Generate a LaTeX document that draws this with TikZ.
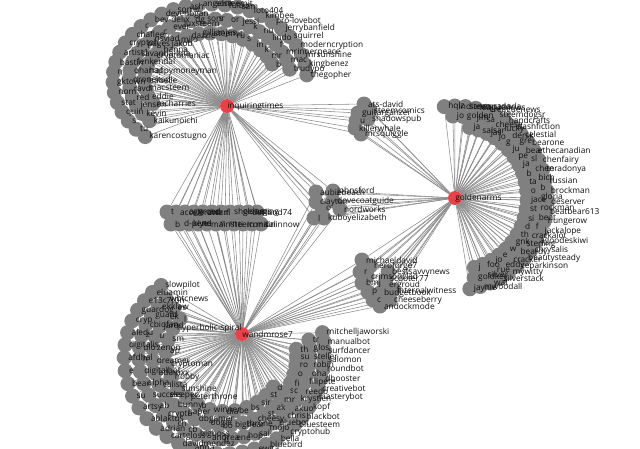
\documentclass[tikz,border=0pt]{standalone}
\usepackage{fontspec}
\setmainfont{Open Sans}
\definecolor{leafgray}{RGB}{128,128,128}
\definecolor{hubred}{RGB}{236,64,72}
\definecolor{edgegray}{RGB}{140,140,140}
\definecolor{labelink}{RGB}{15,15,15}
\pgfdeclarelayer{paper}
\pgfdeclarelayer{edges}
\pgfsetlayers{paper,edges,main}

% user names, ring by ring
\def\itOuter{thegopher,kingbenez,mrsunshine,moderncryption,squirrel,jerrybanfield,pro-lovebot,kimbee,loto404,sam,fulbo,sonr,angelsteemit,ash,sorrel,devenogan,bev-delix,c,chaflee,cryptoh,artist1,bastin,n,gktown,nom,stat,quin,s,tu,karencostugno}
\def\itMiddle{trudypo,mac,mrinnerpeace,f,lindo,nu,k,jessi,or,s,sonr,dg,luxsteem,ever,c,nsvlad,pages,savanna-ima,fenkendal,oharraf,dronekod,ravdi,red,jensen,kevin,kaikunoichi}
\def\itInner{b,mr,k,in,s,ru,jes,steemit,gillian,dazzle,milo,jakob,hanna,cryptomaniac,i,happymoneyman,isabelle,macsteem,eddie,mcharries}
\def\gaInner{ja,salsar,jas,jo,g,ju,pe,ja,b,ta,o,jace,st,si,d,th,gnk,w,e,jo,foo,j}
\def\gaMiddle{jo,golden,jim,sa,cheese,lucky,dersk,gre,bear,sl,chen,bich,b,gloria,rockman,beat,f,crackalot,sterling,beardy,cracker,eddy,rue,silver,goldkey}
\def\gaOuter{hqlz,indiancanada,steemcanada,leaguenews,creaguenews,steemdogsr,handcrafts,dashfiction,celestial,bearone,ethecanadian,chenfairy,teradonya,russian,brockman,deserver,beatbear613,hungerow,jackalope,agoodeskiwi,chrysalis,beautysteady,ceparkinson,mywitty,silverstack,wat,mwoodall,jaynie}
\def\wrA{mitchelljaworski,manualbot,surfdancer,salomon,roundbot,dbooster,creativebot,masterybot,kopf,blackbot,bluesteem,cryptohub,bella,bluebird,ewita,bitcoin,cheese,hoc,annie,anna,davidmendez,cartgloss,adrian,ablaktus,artsy,su,bear,e,afdhal,digitalis,aledu,cryp,guardog,e13c7r0n,eluamin,slowpilot}
\def\wrB{tr,glos,steller,robin,oha,filipete,reedo,krystien,akuo,chris,bluebot,mojo,sal,hop,ene,d,andrea,bigboss,cb,ch,crypto,ab,success,alpha,digitalbot,n,ulo,z,cbiofan,guard,ekklaw,wbtcnews}
\def\wrC{th,su,ro,o,fi,sc,mr,ak,st,cheesy,throne,bigbear,bo,oogie,dbgamer,paper,bunny,sleeper,calista,adamxx,dreamer,zenon,u,jared,ek,es}
\def\wrD{d,st,sir,bs,be,dia,winner,b,peterthrone,sunshine,hobby,cryptoman,ap,sm,hyperbolic-spiral,l}
\def\midTop{t,accelerator,aggroed,n,dwarf,r,ri,shoehugs,gloaming,derlund74,s}
\def\midLow{b,d-pend,kiye,ne,mainsteem,n,rn,ti,iconical,maininnow,c}
\def\trio{e1/316/192/aubiebeach,e2/333/191/johnsford,e3/316/202/clayton,e4/333/201/dovecoatguide,e5/322/208/o,e6/340/209/nordworks,e7/314/218/l,e8/324/218/kuboyelizabeth}
\def\itga{f1/364/104/ats-david,f2/370/110/steemcomics,f3/358/113/guitarganzer,f4/368/119/shadowspub,f5/356/121/u,f6/355/128/killerwhale,f7/361/134/mrsquiggle}
\def\wrga{g1/362/260/michaeldavid,g2/370/266/heroforge7,g3/360/272/r,g4/388/272/bestsavvynews,g5/367/276/crimsonclad,g6/386/279/scooter77,g7/385/285/ergroud,g8/362/283/bmj,g9/393/290/internalwitness,g10/368/292/p,g11/380/293/budgetbook,g12/390/300/cheeseberry,g13/373/300/c,g14/380/306/andockmode}

\begin{document}
\begin{tikzpicture}[x=1pt,y=-1pt,
	leaf/.style={circle,fill=leafgray,inner sep=0pt,minimum size=15pt},
	hub/.style={circle,fill=hubred,inner sep=0pt,minimum size=14pt},
	lab/.style={font=\fontsize{8.3}{9}\selectfont,text=labelink,inner sep=0pt,anchor=west,xshift=-3.8pt},
	edge/.style={draw=edgegray,line width=0.55pt}]
	\useasboundingbox (0,0) rectangle (640,448);
	\begin{pgfonlayer}{paper}
	\fill[white] (0,0) rectangle (640,448);
	\end{pgfonlayer}

	% hubs
	\node (it) at (227,106) [hub] {};
	\node (ga) at (455,198) [hub] {};
	\node (wr) at (242,334) [hub] {};

	% inquiringtimes
	\foreach \nm [count=\i] in \itOuter {
		\pgfmathsetmacro\p{-232*(\i-0.5)/30}
		\node (ao\i) at ({210+97*cos(\p)},{80+76*sin(\p)}) [leaf] {};
	}
	\foreach \nm [count=\i] in \itMiddle {
		\pgfmathsetmacro\p{-6-220*(\i-0.5)/26}
		\node (am\i) at ({210+81*cos(\p)},{80+61*sin(\p)}) [leaf] {};
	}
	\foreach \nm [count=\i] in \itInner {
		\pgfmathsetmacro\p{-15-200*(\i-0.5)/20}
		\node (ai\i) at ({210+66*cos(\p)},{80+47*sin(\p)}) [leaf] {};
	}

	% goldenarms
	\foreach \nm [count=\i] in \gaInner {
		\pgfmathsetmacro\a{-82+160*(\i-0.5)/22}
		\node (gi\i) at ({455+72*cos(\a)},{198+72*sin(\a)}) [leaf] {};
	}
	\foreach \nm [count=\i] in \gaMiddle {
		\pgfmathsetmacro\a{-95+175*(\i-0.5)/25}
		\node (gm\i) at ({455+82*cos(\a)},{198+82*sin(\a)}) [leaf] {};
	}
	\foreach \nm [count=\i] in \gaOuter {
		\pgfmathsetmacro\a{-100+184*(\i-0.5)/28}
		\node (go\i) at ({455+92*cos(\a)},{198+92*sin(\a)}) [leaf] {};
	}

	% wandmrose7
	\foreach \nm [count=\i] in \wrA {
		\pgfmathsetmacro\a{-4+218*(\i-0.5)/36}
		\pgfmathsetmacro\s{(\a+4)/218}
		\pgfmathsetmacro\r{80+12*\s+40*sin(180*\s^1.4)}
		\node (wa\i) at ({242+\r*cos(\a)},{334+\r*sin(\a)}) [leaf] {};
	}
	\foreach \nm [count=\i] in \wrB {
		\pgfmathsetmacro\a{2+206*(\i-0.5)/32}
		\pgfmathsetmacro\s{(\a+4)/218}
		\pgfmathsetmacro\r{65+12*\s+40*sin(180*\s^1.4)}
		\node (wb\i) at ({242+\r*cos(\a)},{334+\r*sin(\a)}) [leaf] {};
	}
	\foreach \nm [count=\i] in \wrC {
		\pgfmathsetmacro\a{12+192*(\i-0.5)/26}
		\pgfmathsetmacro\s{(\a+4)/218}
		\pgfmathsetmacro\r{51+12*\s+40*sin(180*\s^1.4)}
		\node (wc\i) at ({242+\r*cos(\a)},{334+\r*sin(\a)}) [leaf] {};
	}
	\foreach \nm [count=\i] in \wrD {
		\pgfmathsetmacro\a{55+143*(\i-0.5)/16}
		\pgfmathsetmacro\s{(\a+4)/218}
		\pgfmathsetmacro\r{37+12*\s+40*sin(180*\s^1.4)}
		\node (wd\i) at ({242+\r*cos(\a)},{334+\r*sin(\a)}) [leaf] {};
	}

	% shared clusters
	\foreach \nm [count=\i] in \midTop \node (da\i) at (158+9*\i,212) [leaf] {};
	\foreach \nm [count=\i] in \midLow \node (db\i) at (162+9*\i,224) [leaf] {};
	\foreach \n/\x/\y/\nm in \trio \node (\n) at (\x,\y) [leaf] {};
	\foreach \n/\x/\y/\nm in \itga \node (\n) at (\x,\y) [leaf] {};
	\foreach \n/\x/\y/\nm in \wrga \node (\n) at (\x,\y) [leaf] {};

	% labels on top of the circles
	\node[lab,xshift=-3.3pt] at (it.east) {inquiringtimes};
	\node[lab,xshift=-3.3pt] at (ga.east) {goldenarms};
	\node[lab,xshift=-3.3pt] at (wr.east) {wandmrose7};
	\foreach \nm [count=\i] in \itOuter \node[lab] at (ao\i.east) {\nm};
	\foreach \nm [count=\i] in \itMiddle \node[lab] at (am\i.east) {\nm};
	\foreach \nm [count=\i] in \itInner \node[lab] at (ai\i.east) {\nm};
	\foreach \nm [count=\i] in \gaInner \node[lab] at (gi\i.east) {\nm};
	\foreach \nm [count=\i] in \gaMiddle \node[lab] at (gm\i.east) {\nm};
	\foreach \nm [count=\i] in \gaOuter \node[lab] at (go\i.east) {\nm};
	\foreach \nm [count=\i] in \wrA \node[lab] at (wa\i.east) {\nm};
	\foreach \nm [count=\i] in \wrB \node[lab] at (wb\i.east) {\nm};
	\foreach \nm [count=\i] in \wrC \node[lab] at (wc\i.east) {\nm};
	\foreach \nm [count=\i] in \wrD \node[lab] at (wd\i.east) {\nm};
	\foreach \nm [count=\i] in \midTop \node[lab] at (da\i.east) {\nm};
	\foreach \nm [count=\i] in \midLow \node[lab] at (db\i.east) {\nm};
	\foreach \n/\x/\y/\nm in \trio \node[lab] at (\n.east) {\nm};
	\foreach \n/\x/\y/\nm in \itga \node[lab] at (\n.east) {\nm};
	\foreach \n/\x/\y/\nm in \wrga \node[lab] at (\n.east) {\nm};

	% edges
	\begin{pgfonlayer}{edges}
	\foreach \i in {1,...,30} \draw[edge] (it) -- (ao\i);
	\foreach \i in {1,...,26} \draw[edge] (it) -- (am\i);
	\foreach \i in {1,...,20} \draw[edge] (it) -- (ai\i);
	\foreach \i in {1,...,22} \draw[edge] (ga) -- (gi\i);
	\foreach \i in {1,...,25} \draw[edge] (ga) -- (gm\i);
	\foreach \i in {1,...,28} \draw[edge] (ga) -- (go\i);
	\foreach \i in {1,...,36} \draw[edge] (wr) -- (wa\i);
	\foreach \i in {1,...,32} \draw[edge] (wr) -- (wb\i);
	\foreach \i in {1,...,26} \draw[edge] (wr) -- (wc\i);
	\foreach \i in {1,...,16} \draw[edge] (wr) -- (wd\i);
	\foreach \i in {1,...,11} \draw[edge] (it) -- (da\i) -- (wr) (it) -- (db\i) -- (wr);
	\foreach \i in {1,...,8} \draw[edge] (it) -- (e\i) -- (wr) (e\i) -- (ga);
	\foreach \i in {1,...,7} \draw[edge] (it) -- (f\i) -- (ga);
	\foreach \i in {1,...,14} \draw[edge] (wr) -- (g\i) -- (ga);
	\end{pgfonlayer}
\end{tikzpicture}
\end{document}
